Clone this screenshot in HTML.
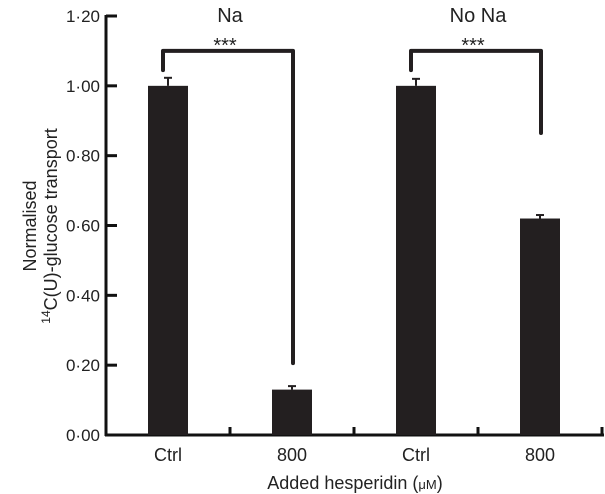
<!DOCTYPE html>
<html><head><meta charset="utf-8"><style>
body{margin:0;background:#fff}
svg{display:block;font-family:"Liberation Sans",sans-serif}
</style></head><body>
<svg id="chart" width="605" height="494">
<g id="g"></g>
</svg>
<script>
const categories=["Ctrl","800","Ctrl","800"];
const values=[1.00,0.13,1.00,0.62];
const errors=[0.023,0.01,0.02,0.01];
const yTicks=[0,0.2,0.4,0.6,0.8,1.0,1.2];
const yTickLabels=["0·00","0·20","0·40","0·60","0·80","1·00","1·20"];
const groups=["Na","No Na"];
const sigLabels=["***","***"];
const bracketTops=[1.10,1.10];
const bracketLeftEnds=[1.045,1.045];
const bracketRightEnds=[0.206,0.865];

const NS="http://www.w3.org/2000/svg";
const g=document.getElementById('g');
const x0=106,x1=604,y0=435,yTop=16,ymax=1.2;
const bw=124;
function y(v){return y0-(v/ymax)*(y0-yTop);}
function xc(i){return x0+bw*(i+0.5);}
function el(t,a,txt){const e=document.createElementNS(NS,t);for(const k in a)e.setAttribute(k,a[k]);if(txt!=null)e.textContent=txt;g.appendChild(e);return e;}

let e=el('line',{x1:x0,y1:yTop-1,x2:x0,y2:y0+1,stroke:'#111','stroke-width':3});

e=el('line',{x1:x0-1,y1:y0,x2:x1,y2:y0,stroke:'#111','stroke-width':3});

yTicks.forEach((v,i)=>{
 let t=el('line',{x1:x0,y1:y(v),x2:x0+11,y2:y(v),stroke:'#111','stroke-width':3});
 
 let l=el('text',{x:100,y:y(v)+6,'text-anchor':'end','font-size':17,fill:'#222'},yTickLabels[i]);
 
});
for(let i=1;i<=categories.length;i++){
 let t=el('line',{x1:x0+bw*i,y1:y0,x2:x0+bw*i,y2:y0-8,stroke:'#111','stroke-width':3});
 
}
categories.forEach((c,i)=>{
 const cx=xc(i);
 let b=el('rect',{x:cx-20,y:y(values[i]),width:40,height:y0-y(values[i]),fill:'#231f20'});
 
 let er=el('line',{x1:cx,y1:y(values[i]),x2:cx,y2:y(values[i]+errors[i]),stroke:'#231f20','stroke-width':2});
 
 let cap=el('line',{x1:cx-4,y1:y(values[i]+errors[i]),x2:cx+4,y2:y(values[i]+errors[i]),stroke:'#231f20','stroke-width':2});
 
 let l=el('text',{x:cx,y:461,'text-anchor':'middle','font-size':18,fill:'#222'},c);
 
});
groups.forEach((gname,k)=>{
 const a=xc(2*k)-5,b=xc(2*k+1)+1,top=y(bracketTops[k]);
 let p=el('path',{d:`M${a},${y(bracketLeftEnds[k])} V${top} H${b} V${y(bracketRightEnds[k])}`,fill:'none',stroke:'#231f20','stroke-width':4,'stroke-linejoin':'round','stroke-linecap':'round'});
 
 let s=el('text',{x:(a+b)/2-3,y:52,'text-anchor':'middle','font-size':20,fill:'#222'},sigLabels[k]);
 
 let t=el('text',{x:(a+b)/2+2,y:22,'text-anchor':'middle','font-size':20,fill:'#222'},gname);
 
});
let xt=el('text',{x:355,y:489,'text-anchor':'middle','font-size':18,fill:'#222'},'');
xt.innerHTML='Added hesperidin (<tspan font-size="13">μM</tspan>)';

let yt=el('text',{transform:'translate(36,226) rotate(-90)','text-anchor':'middle','font-size':18,fill:'#222'},'Normalised');

let yt2=el('text',{transform:'translate(57,226) rotate(-90)','text-anchor':'middle','font-size':18,fill:'#222'},'');
yt2.innerHTML='<tspan font-size="12" dy="-7">14</tspan><tspan dy="7">C(U)-glucose transport</tspan>';

</script>
</body></html>
